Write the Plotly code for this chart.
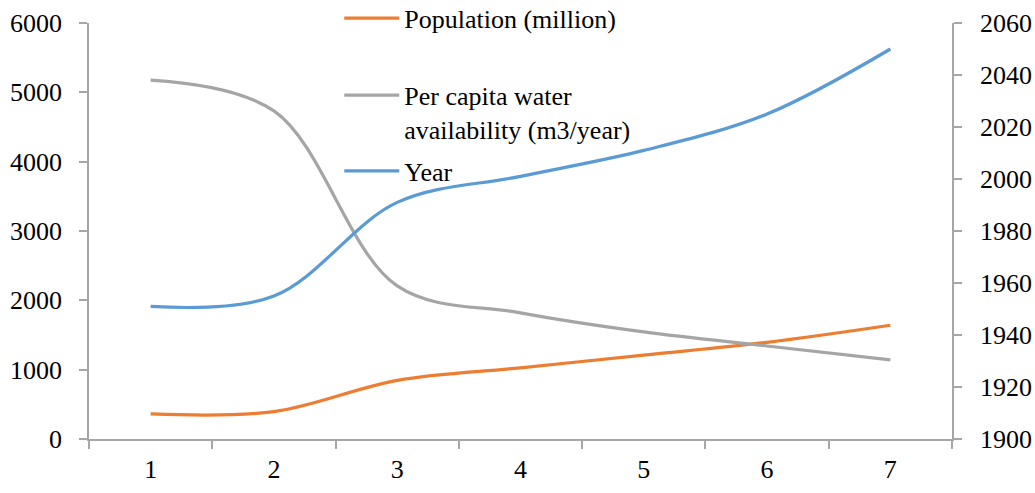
import plotly.graph_objects as go

# Period index shown on the category axis
periods = ["1", "2", "3", "4", "5", "6", "7"]

# Series values
years = [1951, 1955, 1991, 2001, 2011, 2025, 2050]
population_million = [361, 395, 846, 1027, 1210, 1394, 1640]
water_per_capita = [5177, 4732, 2209, 1820, 1545, 1341, 1140]

# Axis ticks
left_ticks = [0, 1000, 2000, 3000, 4000, 5000, 6000]
right_ticks = [1900, 1920, 1940, 1960, 1980, 2000, 2020, 2040, 2060]

ORANGE = "#ED7D31"
GRAY = "#A5A5A5"
BLUE = "#5B9BD5"
AXIS = "#A6A6A6"
FONT = "Liberation Serif"
FS = 26

fig = go.Figure()
fig.add_trace(go.Scatter(
    x=periods, y=population_million, name="Population (million)",
    mode="lines", line=dict(color=ORANGE, width=3.2, shape="spline", smoothing=1),
    legend="legend", yaxis="y",
))
fig.add_trace(go.Scatter(
    x=periods, y=water_per_capita, name="Per capita water<br>availability (m3/year)",
    mode="lines", line=dict(color=GRAY, width=3.2, shape="spline", smoothing=1),
    legend="legend2", yaxis="y",
))
fig.add_trace(go.Scatter(
    x=periods, y=years, name="Year",
    mode="lines", line=dict(color=BLUE, width=3.2, shape="spline", smoothing=1),
    legend="legend3", yaxis="y2",
))

legend_style = dict(
    x=0.29, xanchor="left", yanchor="top",
    bgcolor="rgba(0,0,0,0)", borderwidth=0,
    itemwidth=55, valign="top",
    font=dict(family=FONT, size=FS, color="black"),
)

axis_style = dict(
    showgrid=False, zeroline=False,
    showline=True, linecolor=AXIS, linewidth=1.5,
    ticks="outside", ticklen=8, tickcolor=AXIS, tickwidth=1.5,
    tickfont=dict(family=FONT, size=FS, color="black"),
)

fig.update_layout(
    width=1035, height=493,
    margin=dict(l=89, r=83, t=23, b=54, autoexpand=False),
    paper_bgcolor="white", plot_bgcolor="white",
    font=dict(family=FONT, size=FS, color="black"),
    showlegend=True,
    legend=dict(y=1.068, **legend_style),
    legend2=dict(y=0.883, **legend_style),
    legend3=dict(y=0.701, **legend_style),
    xaxis=dict(
        type="category", range=[-0.5, 6.5], tickson="boundaries",
        ticklabelstandoff=6, **axis_style,
    ),
    yaxis=dict(
        range=[0, 6000], tickvals=left_ticks, ticklabelstandoff=12, **axis_style,
    ),
    yaxis2=dict(
        range=[1900, 2060], tickvals=right_ticks, overlaying="y", side="right",
        ticklabelstandoff=13, **axis_style,
    ),
)

fig.write_html("out.html")
